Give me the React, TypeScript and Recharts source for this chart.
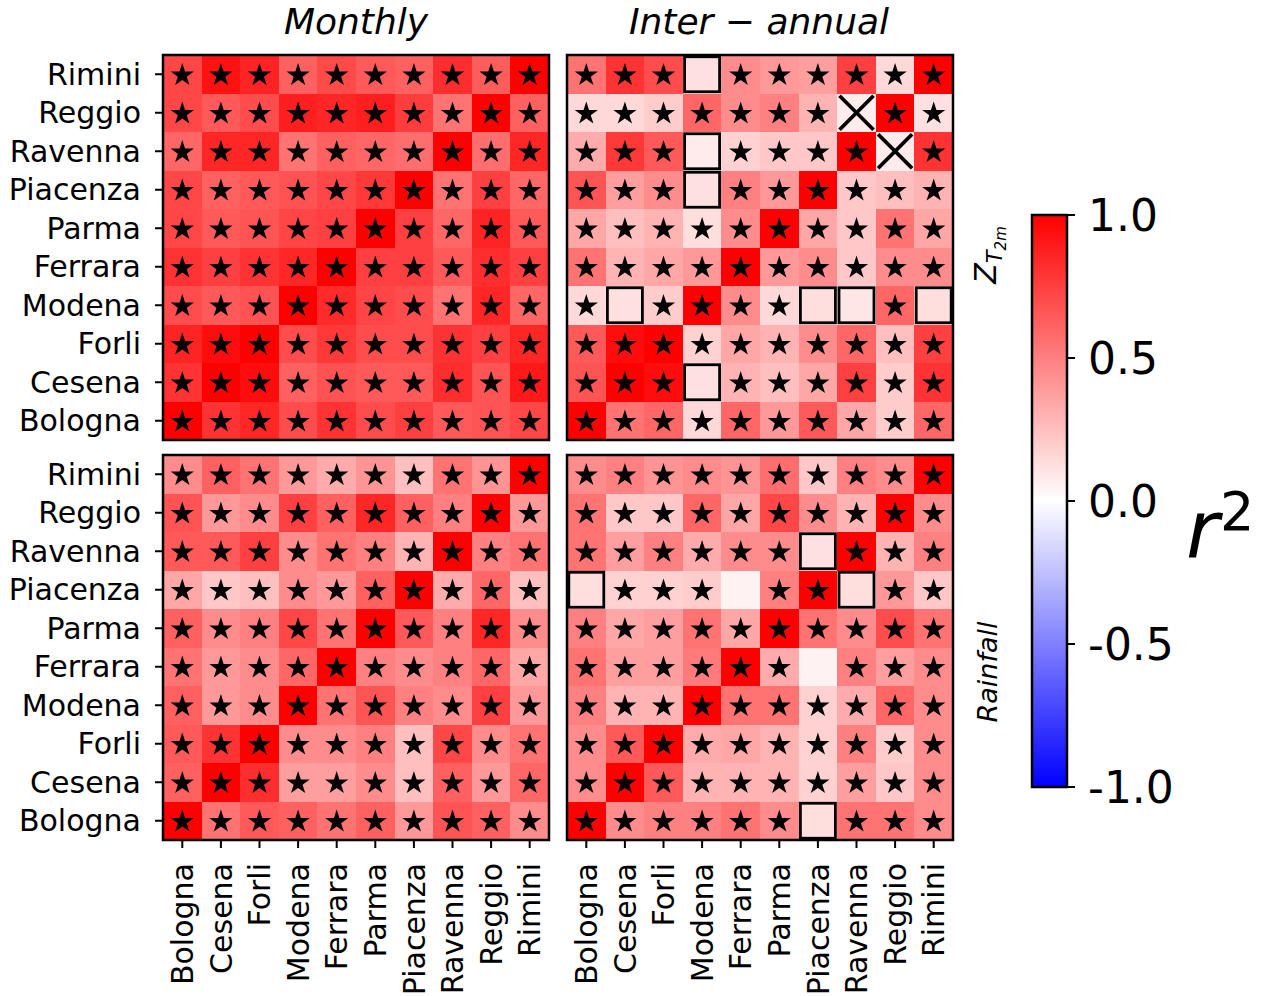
import React from "react";
import { ScatterChart, Scatter, XAxis, YAxis, ReferenceArea } from "recharts";

// Station order along both axes (x: left→right, y: bottom→top)
const STATIONS = ["Bologna", "Cesena", "Forli", "Modena", "Ferrara", "Parma", "Piacenza", "Ravenna", "Reggio", "Rimini"];
const CBAR_TICKS = [-1, -0.5, 0, 0.5, 1];

// r² matrices, rows listed from the top row (Rimini) down to Bologna,
// columns Bologna → Rimini
const monthlyT2m = [
  [0.72, 0.93, 0.86, 0.62, 0.71, 0.65, 0.62, 0.82, 0.64, 1.0],
  [0.72, 0.65, 0.7, 0.88, 0.85, 0.88, 0.76, 0.55, 1.0, 0.62],
  [0.6, 0.85, 0.85, 0.55, 0.62, 0.6, 0.57, 1.0, 0.57, 0.85],
  [0.72, 0.62, 0.65, 0.68, 0.72, 0.78, 1.0, 0.55, 0.75, 0.6],
  [0.72, 0.65, 0.67, 0.73, 0.75, 1.0, 0.75, 0.6, 0.86, 0.65],
  [0.8, 0.75, 0.8, 0.85, 1.0, 0.75, 0.75, 0.65, 0.82, 0.75],
  [0.7, 0.65, 0.68, 1.0, 0.83, 0.73, 0.7, 0.55, 0.85, 0.6],
  [0.86, 0.95, 1.0, 0.7, 0.78, 0.7, 0.7, 0.8, 0.75, 0.85],
  [0.8, 1.0, 0.95, 0.62, 0.68, 0.65, 0.65, 0.82, 0.67, 0.9],
  [1.0, 0.8, 0.85, 0.7, 0.8, 0.7, 0.75, 0.65, 0.67, 0.72],
];
const interT2m = [
  [0.55, 0.8, 0.7, 0.12, 0.45, 0.4, 0.38, 0.75, 0.15, 1.0],
  [0.15, 0.15, 0.2, 0.6, 0.45, 0.5, 0.3, 0.07, 1.0, 0.12],
  [0.33, 0.78, 0.65, 0.08, 0.18, 0.22, 0.22, 1.0, 0.08, 0.8],
  [0.67, 0.38, 0.45, 0.12, 0.5, 0.4, 1.0, 0.22, 0.25, 0.3],
  [0.35, 0.25, 0.3, 0.13, 0.45, 1.0, 0.35, 0.22, 0.55, 0.35],
  [0.55, 0.3, 0.35, 0.4, 1.0, 0.4, 0.45, 0.22, 0.45, 0.45],
  [0.15, 0.12, 0.2, 1.0, 0.45, 0.15, 0.13, 0.1, 0.6, 0.13],
  [0.65, 0.95, 1.0, 0.18, 0.35, 0.3, 0.45, 0.6, 0.25, 0.75],
  [0.67, 1.0, 0.95, 0.12, 0.3, 0.25, 0.35, 0.75, 0.2, 0.8],
  [1.0, 0.55, 0.6, 0.15, 0.6, 0.4, 0.65, 0.35, 0.2, 0.6],
];
const monthlyRain = [
  [0.45, 0.62, 0.55, 0.4, 0.33, 0.42, 0.25, 0.55, 0.42, 1.0],
  [0.67, 0.4, 0.45, 0.75, 0.62, 0.85, 0.62, 0.5, 1.0, 0.4],
  [0.65, 0.65, 0.75, 0.45, 0.55, 0.5, 0.3, 1.0, 0.5, 0.55],
  [0.35, 0.22, 0.25, 0.45, 0.4, 0.62, 1.0, 0.33, 0.6, 0.25],
  [0.62, 0.45, 0.5, 0.72, 0.55, 1.0, 0.65, 0.5, 0.85, 0.45],
  [0.55, 0.4, 0.45, 0.6, 1.0, 0.5, 0.45, 0.5, 0.6, 0.35],
  [0.62, 0.4, 0.45, 1.0, 0.55, 0.67, 0.5, 0.45, 0.75, 0.4],
  [0.65, 0.8, 1.0, 0.45, 0.45, 0.5, 0.25, 0.72, 0.45, 0.55],
  [0.62, 1.0, 0.82, 0.38, 0.38, 0.45, 0.25, 0.62, 0.4, 0.6],
  [1.0, 0.55, 0.65, 0.62, 0.55, 0.62, 0.4, 0.67, 0.62, 0.45],
];
const interRain = [
  [0.45, 0.5, 0.42, 0.45, 0.42, 0.57, 0.22, 0.5, 0.45, 1.0],
  [0.55, 0.22, 0.22, 0.6, 0.35, 0.72, 0.45, 0.3, 1.0, 0.45],
  [0.55, 0.38, 0.5, 0.33, 0.45, 0.45, 0.12, 1.0, 0.3, 0.5],
  [0.13, 0.18, 0.18, 0.2, 0.05, 0.5, 1.0, 0.13, 0.4, 0.22],
  [0.5, 0.35, 0.38, 0.55, 0.35, 1.0, 0.55, 0.45, 0.7, 0.55],
  [0.55, 0.38, 0.38, 0.52, 1.0, 0.33, 0.05, 0.5, 0.38, 0.45],
  [0.5, 0.3, 0.3, 1.0, 0.55, 0.55, 0.18, 0.33, 0.6, 0.45],
  [0.45, 0.65, 1.0, 0.33, 0.35, 0.3, 0.18, 0.5, 0.2, 0.45],
  [0.45, 1.0, 0.65, 0.3, 0.3, 0.3, 0.18, 0.38, 0.22, 0.45],
  [1.0, 0.45, 0.5, 0.5, 0.55, 0.45, 0.13, 0.55, 0.55, 0.45],
];

// Cells that carry a square / cross / no marker instead of a star: [row, column]
const interT2mBoxes: [string, string][] = [
  ["Rimini", "Modena"], ["Ravenna", "Modena"], ["Piacenza", "Modena"], ["Cesena", "Modena"],
  ["Modena", "Cesena"], ["Modena", "Piacenza"], ["Modena", "Ravenna"], ["Modena", "Rimini"],
];
const interT2mCrosses: [string, string][] = [["Reggio", "Ravenna"], ["Ravenna", "Reggio"]];
const interRainBoxes: [string, string][] = [
  ["Ravenna", "Piacenza"], ["Piacenza", "Bologna"], ["Piacenza", "Ravenna"], ["Bologna", "Piacenza"],
];
const interRainBlank: [string, string][] = [["Piacenza", "Ferrara"], ["Ferrara", "Piacenza"]];

const FONT = "DejaVu Sans, Verdana, sans-serif";

// bwr colormap on [-1, 1]
function bwr(v: number): string {
  const t = Math.max(-1, Math.min(1, v));
  if (t >= 0) {
    const g = Math.round(255 * (1 - t));
    return `rgb(255,${g},${g})`;
  }
  const g = Math.round(255 * (1 + t));
  return `rgb(${g},${g},255)`;
}

type Cell = { x: number; y: number; v: number };

function toCells(matrix: number[][]): Cell[] {
  const out: Cell[] = [];
  matrix.forEach((row, r) => {
    const yi = STATIONS.length - 1 - r;
    row.forEach((v, c) => out.push({ x: c, y: yi, v }));
  });
  return out;
}

function toPoints(pairs: [string, string][]) {
  return pairs.map(([row, col]) => ({ x: STATIONS.indexOf(col), y: STATIONS.indexOf(row) }));
}

function starPath(cx: number, cy: number, R: number) {
  const r = R * 0.381966;
  let d = "";
  for (let i = 0; i < 10; i++) {
    const rad = i % 2 === 0 ? R : r;
    const a = (Math.PI / 5) * i - Math.PI / 2;
    d += `${i === 0 ? "M" : "L"}${cx + rad * Math.cos(a)},${cy + rad * Math.sin(a)}`;
  }
  return d + "Z";
}

const StarShape = (p: any) => <path d={starPath(p.cx, p.cy + 1, 12.2)} fill="#000" />;
const BoxShape = (p: any) => (
  <rect x={p.cx - 17.5} y={p.cy - 17.5} width={35} height={35} fill="none" stroke="#000" strokeWidth={2.8} />
);
const CrossShape = (p: any) => (
  <g stroke="#000" strokeWidth={3.8} strokeLinecap="butt">
    <line x1={p.cx - 17} y1={p.cy - 17} x2={p.cx + 17} y2={p.cy + 17} />
    <line x1={p.cx - 17} y1={p.cy + 17} x2={p.cx + 17} y2={p.cy - 17} />
  </g>
);
const NoShape = () => <g />;

const XTick = (props: any) => {
  const { x, y, payload } = props;
  return (
    <text
      x={x}
      y={y}
      transform={`rotate(-90 ${x} ${y})`}
      textAnchor="end"
      dy="0.36em"
      fontSize={30}
      fontFamily={FONT}
      fill="#000"
    >
      {STATIONS[payload.value]}
    </text>
  );
};

const IDX = STATIONS.map((_, i) => i);

type PanelOpts = {
  left: number;
  top: number;
  width: number;
  height: number;
  margin: { top: number; right: number; bottom: number; left: number };
  yAxisWidth: number;
  xAxisHeight: number;
  matrix: number[][];
  boxes?: [string, string][];
  crosses?: [string, string][];
  blanks?: [string, string][];
  yLabels: boolean;
  xLabels: boolean;
};

function panel(key: string, o: PanelOpts) {
  const cells = toCells(o.matrix);
  const boxes = toPoints(o.boxes || []);
  const crosses = toPoints(o.crosses || []);
  const blanks = toPoints(o.blanks || []);
  const skip = new Set([...boxes, ...crosses, ...blanks].map((p) => `${p.x}-${p.y}`));
  const stars = cells.filter((c) => !skip.has(`${c.x}-${c.y}`)).map((c) => ({ x: c.x, y: c.y }));
  const axisLine = { stroke: "#000", strokeWidth: 2 };
  const tickLine = { stroke: "#000", strokeWidth: 2 };
  return (
    <div key={key} style={{ position: "absolute", left: o.left, top: o.top }}>
      <ScatterChart width={o.width} height={o.height} margin={o.margin}>
        <XAxis
          type="number"
          dataKey="x"
          domain={[-0.5, 9.5]}
          ticks={IDX}
          interval={0}
          height={o.xAxisHeight}
          tick={o.xLabels ? <XTick /> : false}
          tickSize={8}
          tickMargin={15}
          axisLine={axisLine}
          tickLine={tickLine}
          allowDataOverflow
        />
        <YAxis
          type="number"
          dataKey="y"
          domain={[-0.5, 9.5]}
          ticks={IDX}
          interval={0}
          width={o.yAxisWidth}
          tick={o.yLabels ? { fill: "#000", fontSize: 30, fontFamily: FONT } : false}
          tickFormatter={(v: number) => STATIONS[v]}
          tickSize={8}
          tickMargin={14}
          axisLine={axisLine}
          tickLine={tickLine}
          allowDataOverflow
        />
        {cells.map((c) => (
          <ReferenceArea
            key={`c-${c.x}-${c.y}`}
            x1={c.x - 0.5}
            x2={c.x + 0.5}
            y1={c.y - 0.5}
            y2={c.y + 0.5}
            fill={bwr(c.v)}
            fillOpacity={1}
            stroke="none"
            shapeRendering="crispEdges"
            ifOverflow="visible"
          />
        ))}
        <ReferenceArea
          x1={-0.5}
          x2={9.5}
          y1={-0.5}
          y2={9.5}
          fill="none"
          fillOpacity={0}
          stroke="#000"
          strokeWidth={2.5}
          ifOverflow="visible"
        />
        <Scatter data={stars} shape={StarShape} isAnimationActive={false} />
        {boxes.length > 0 && <Scatter data={boxes} shape={BoxShape} isAnimationActive={false} />}
        {crosses.length > 0 && <Scatter data={crosses} shape={CrossShape} isAnimationActive={false} />}
      </ScatterChart>
    </div>
  );
}

const cbarAnchors = CBAR_TICKS.map((v) => ({ x: 0.5, y: v }));

export default function App() {
  return (
    <div
      style={{
        position: "absolute",
        left: 0,
        top: 0,
        width: 1262,
        height: 996,
        background: "#fff",
        overflow: "hidden",
        fontFamily: FONT,
      }}
    >
      {panel("tl", {
        left: 0, top: 0, width: 560, height: 450,
        margin: { top: 55, right: 11, bottom: 0, left: 0 },
        yAxisWidth: 163, xAxisHeight: 10, matrix: monthlyT2m, yLabels: true, xLabels: false,
      })}
      {panel("tr", {
        left: 557, top: 0, width: 400, height: 450,
        margin: { top: 55, right: 4, bottom: 0, left: 0 },
        yAxisWidth: 10, xAxisHeight: 10, matrix: interT2m,
        boxes: interT2mBoxes, crosses: interT2mCrosses, yLabels: false, xLabels: false,
      })}
      {panel("bl", {
        left: 0, top: 450, width: 560, height: 546,
        margin: { top: 5, right: 11, bottom: 0, left: 0 },
        yAxisWidth: 163, xAxisHeight: 156, matrix: monthlyRain, yLabels: true, xLabels: true,
      })}
      {panel("br", {
        left: 557, top: 450, width: 400, height: 546,
        margin: { top: 5, right: 4, bottom: 0, left: 0 },
        yAxisWidth: 10, xAxisHeight: 156, matrix: interRain,
        boxes: interRainBoxes, blanks: interRainBlank, yLabels: false, xLabels: true,
      })}

      {/* colour bar */}
      <div style={{ position: "absolute", left: 1000, top: 180 }}>
        <ScatterChart width={262} height={650} margin={{ top: 35, right: 0, bottom: 43, left: 32 }}>
          <defs>
            <linearGradient id="bwrGrad" x1="0" y1="0" x2="0" y2="1">
              <stop offset="0%" stopColor="#ff0000" />
              <stop offset="50%" stopColor="#ffffff" />
              <stop offset="100%" stopColor="#0000ff" />
            </linearGradient>
          </defs>
          <XAxis type="number" dataKey="x" domain={[0, 1]} hide />
          <YAxis
            type="number"
            dataKey="y"
            orientation="right"
            domain={[-1, 1]}
            ticks={CBAR_TICKS}
            interval={0}
            width={195}
            tickFormatter={(v: number) => v.toFixed(1)}
            tick={{ fill: "#000", fontSize: 44, fontFamily: FONT }}
            tickSize={8}
            tickMargin={13}
            axisLine={false}
            tickLine={{ stroke: "#000", strokeWidth: 2 }}
          />
          <ReferenceArea
            x1={0}
            x2={1}
            y1={-1}
            y2={1}
            fill="url(#bwrGrad)"
            fillOpacity={1}
            stroke="#000"
            strokeWidth={2.5}
            ifOverflow="visible"
          />
          <Scatter data={cbarAnchors} shape={NoShape} isAnimationActive={false} />
        </ScatterChart>
      </div>

      {/* titles and side labels */}
      <svg
        width={1262}
        height={996}
        style={{ position: "absolute", left: 0, top: 0, pointerEvents: "none" }}
      >
        <text x={356} y={34} textAnchor="middle" fontSize={36} fontStyle="italic" fontFamily={FONT} fill="#000">
          Monthly
        </text>
        <text x={759} y={34} textAnchor="middle" fontSize={36} fontStyle="italic" fontFamily={FONT} fill="#000">
          Inter<tspan fontStyle="normal"> − </tspan>annual
        </text>
        <text
          x={996}
          y={255}
          transform="rotate(-90 996 255)"
          textAnchor="middle"
          fontSize={30}
          fontStyle="italic"
          fontFamily={FONT}
          fill="#000"
        >
          Z<tspan fontSize={21} dy={6}>T</tspan>
          <tspan fontSize={15} dy={4}>2m</tspan>
        </text>
        <text
          x={997}
          y={672}
          transform="rotate(-90 997 672)"
          textAnchor="middle"
          fontSize={27}
          fontStyle="italic"
          fontFamily={FONT}
          fill="#000"
        >
          Rainfall
        </text>
        <text x={1186} y={557} fontSize={80} fontStyle="italic" fontFamily={FONT} fill="#000">
          r
        </text>
        <text x={1220} y={530} fontSize={54} fontFamily={FONT} fill="#000">
          2
        </text>
      </svg>
    </div>
  );
}
